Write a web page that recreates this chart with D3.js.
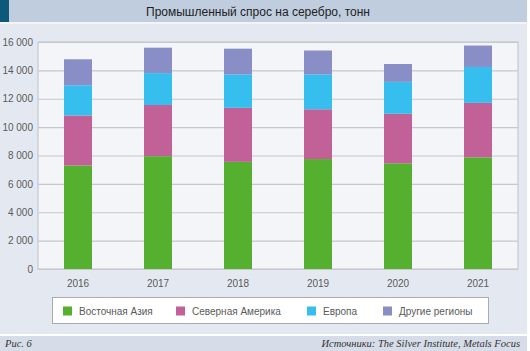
<!DOCTYPE html>
<html>
<head>
<meta charset="utf-8">
<script src="https://cdn.jsdelivr.net/npm/d3@7"></script>
<style>
  body { margin: 0; background: #fff; }
  text { font-family: "Liberation Sans", Arial, sans-serif; }
</style>
</head>
<body>
<div id="chart-area"></div>
<script>
// Data (tonnes)
var years = ["2016", "2017", "2018", "2019", "2020", "2021"];
var eastAsia     = [7300, 7950, 7550, 7750, 7450, 7870];
var northAmerica = [3520, 3610, 3810, 3510, 3490, 3840];
var europe       = [2130, 2250, 2350, 2460, 2250, 2530];
var otherRegions = [1830, 1790, 1820, 1680, 1260, 1510];
var seriesNames = ["Восточная Азия", "Северная Америка", "Европа", "Другие регионы"];
var yTicks = [0, 2000, 4000, 6000, 8000, 10000, 12000, 14000, 16000];

var W = 530, H = 351;
var plot = {left: 38, right: 518, top: 42, bottom: 269};

var svg = d3.select("#chart-area")
    .append("svg")
        .attr("width", W)
        .attr("height", H);

// Background panels
svg.append("rect").attr("x", 0).attr("y", 0).attr("width", 527).attr("height", 334).attr("fill", "#e4e9f1");
svg.append("rect").attr("x", 0).attr("y", 0).attr("width", 527).attr("height", 22).attr("fill", "#c0cddf");
svg.append("rect").attr("x", 0).attr("y", 0).attr("width", 9).attr("height", 22).attr("fill", "#0e587c");
svg.append("rect").attr("x", 0).attr("y", 22).attr("width", 527).attr("height", 2).attr("fill", "#f2f4f8");
svg.append("rect").attr("x", 0).attr("y", 336).attr("width", 527).attr("height", 15).attr("fill", "#d6dde9");

svg.append("text")
    .attr("x", 258)
    .attr("y", 16)
    .attr("text-anchor", "middle")
    .attr("font-size", "12px")
    .attr("fill", "#222")
    .text("Промышленный спрос на серебро, тонн");

// Scales
var x = d3.scaleBand()
    .domain(years)
    .range([plot.left, plot.right])
    .paddingInner(0.65)
    .paddingOuter(0.325);

var y = d3.scaleLinear()
    .domain([0, 16000])
    .range([plot.bottom, plot.top]);

var color = d3.scaleOrdinal()
    .domain(seriesNames)
    .range(["#56b030", "#c26198", "#36bfee", "#8a8ec6"]);

// Plot background
svg.append("rect")
    .attr("x", plot.left)
    .attr("y", plot.top)
    .attr("width", plot.right - plot.left)
    .attr("height", plot.bottom - plot.top)
    .attr("fill", "#f3f5f9");

// Grid + y axis
var ru = d3.formatLocale({decimal: ",", thousands: "\u00a0", grouping: [3], currency: ["", ""]});
var yAxis = d3.axisLeft(y)
    .tickValues(yTicks)
    .tickSize(-(plot.right - plot.left))
    .tickPadding(5)
    .tickFormat(ru.format(","));
var yg = svg.append("g")
    .attr("transform", "translate(" + plot.left + ",0)")
    .call(yAxis);
yg.select(".domain").remove();
yg.selectAll(".tick line").attr("stroke", "#c6c8ce").attr("stroke-width", 1.2);
yg.selectAll(".tick text").attr("font-size", "10px").attr("fill", "#5a5a5a");

// Plot frame
svg.append("rect")
    .attr("x", plot.left)
    .attr("y", plot.top)
    .attr("width", plot.right - plot.left)
    .attr("height", plot.bottom - plot.top)
    .attr("fill", "none")
    .attr("stroke", "#c6c8ce")
    .attr("stroke-width", 1.2);

// Stacked bars
var rows = years.map(function(yr, i) {
    var r = {year: yr};
    r[seriesNames[0]] = eastAsia[i];
    r[seriesNames[1]] = northAmerica[i];
    r[seriesNames[2]] = europe[i];
    r[seriesNames[3]] = otherRegions[i];
    return r;
});
var stack = d3.stack().keys(seriesNames)(rows);

svg.append("g")
    .selectAll("g")
    .data(stack)
    .enter()
    .append("g")
        .attr("fill", function(d) { return color(d.key); })
    .selectAll("rect")
    .data(function(d) { return d; })
    .enter()
    .append("rect")
        .attr("x", function(d) { return x(d.data.year); })
        .attr("y", function(d) { return y(d[1]); })
        .attr("width", x.bandwidth())
        .attr("height", function(d) { return y(d[0]) - y(d[1]); });

// X axis labels
var xAxis = d3.axisBottom(x).tickSize(0).tickPadding(11);
var xg = svg.append("g")
    .attr("transform", "translate(0," + plot.bottom + ")")
    .call(xAxis);
xg.select(".domain").remove();
xg.selectAll(".tick text").attr("font-size", "10px").attr("fill", "#5a5a5a");

// Legend
svg.append("rect")
    .attr("x", 52.5).attr("y", 297.5)
    .attr("width", 436).attr("height", 26)
    .attr("fill", "#fff")
    .attr("stroke", "#a9abb0");
var legendX = [63, 176, 307, 383];
var legend = svg.append("g")
    .selectAll("g")
    .data(seriesNames)
    .enter()
    .append("g")
        .attr("transform", function(d, i) { return "translate(" + legendX[i] + ",306.5)"; });
legend.append("rect")
    .attr("width", 9).attr("height", 9)
    .attr("fill", function(d) { return color(d); });
legend.append("text")
    .attr("x", 16).attr("y", 8.5)
    .attr("font-size", "10px")
    .attr("fill", "#5a5a5a")
    .text(function(d) { return d; });

// Footer
svg.append("text")
    .attr("x", 5).attr("y", 347)
    .style("font-family", "'Liberation Serif', serif")
    .attr("font-style", "italic")
    .attr("font-size", "10.5px")
    .attr("fill", "#333")
    .text("Рис. 6");
svg.append("text")
    .attr("x", 520).attr("y", 347)
    .attr("text-anchor", "end")
    .style("font-family", "'Liberation Serif', serif")
    .attr("font-style", "italic")
    .attr("font-size", "10.5px")
    .attr("fill", "#333")
    .text("Источники: The Silver Institute, Metals Focus");
</script>
</body>
</html>
